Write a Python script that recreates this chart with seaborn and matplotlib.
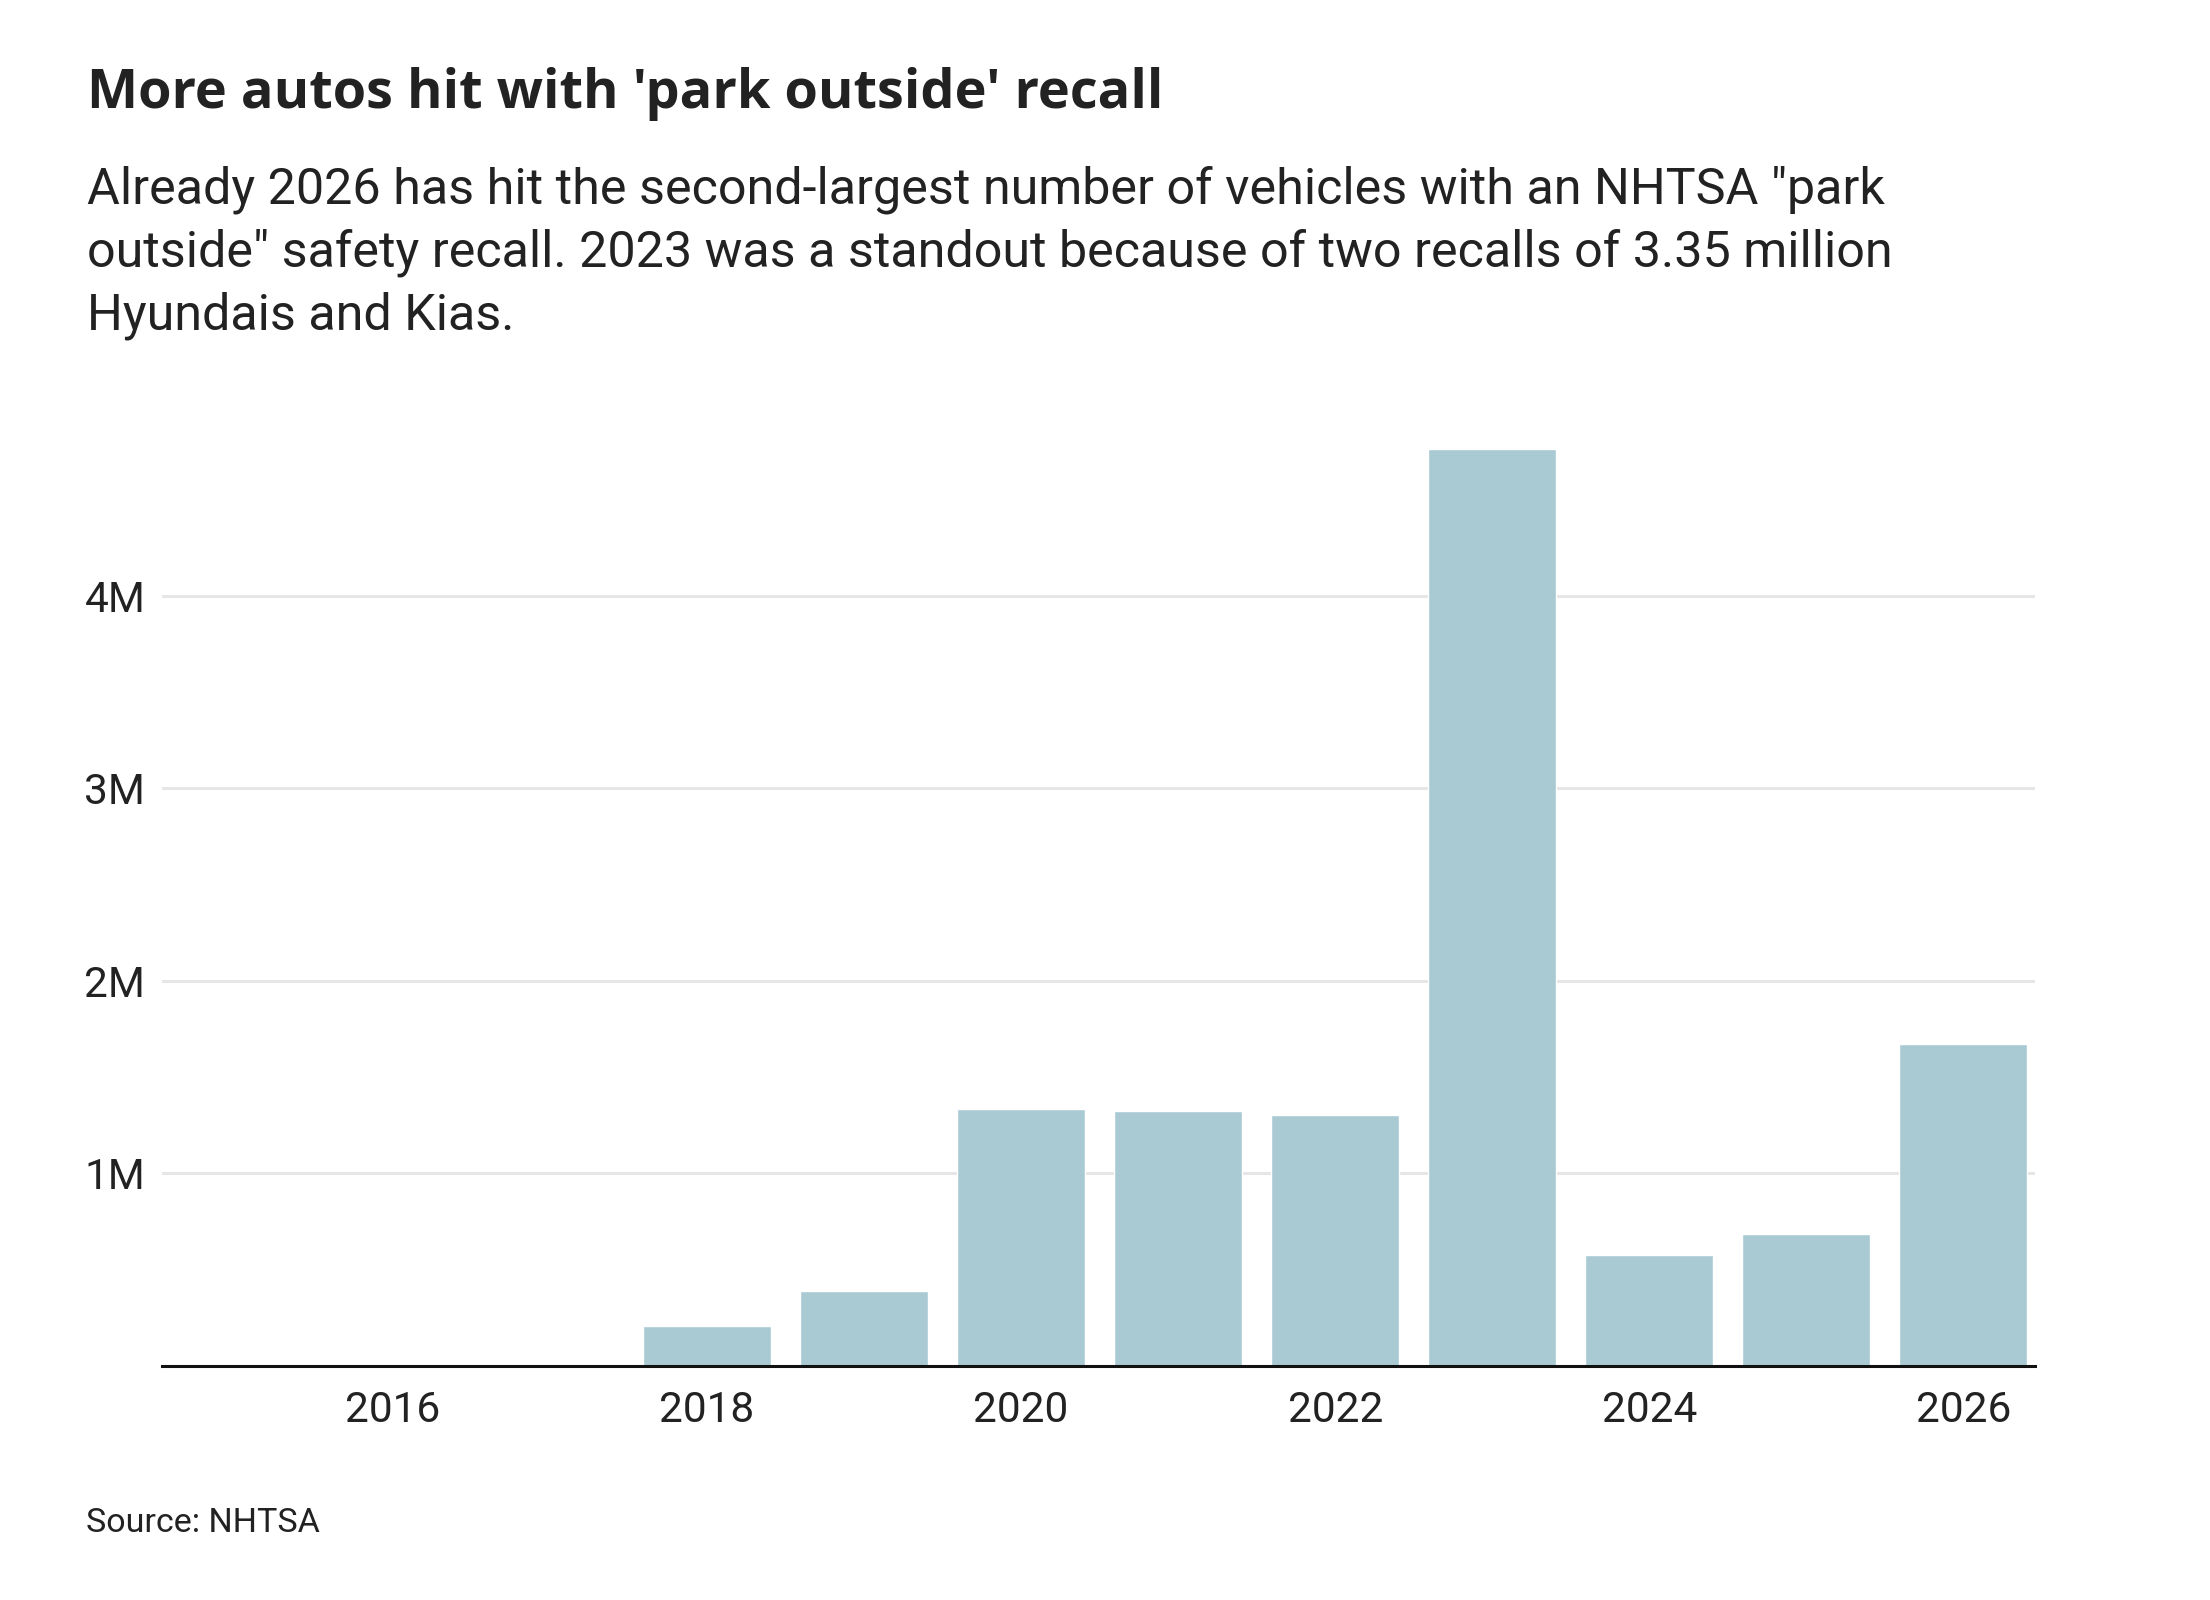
import matplotlib
matplotlib.use('Agg')
import matplotlib.pyplot as plt
import matplotlib.ticker as mticker
import seaborn as sns
import pandas as pd

sns.set_style('white')
plt.rcParams['font.family'] = ['Roboto', 'DejaVu Sans']

#Vehicles hit by "park outside" recalls per year
YEARS = ['2015', '2016', '2017', '2018', '2019', '2020', '2021', '2022', '2023', '2024', '2025', '2026']
VEHICLES = [0, 0, 0, 210000, 390000, 1335000, 1322000, 1305000, 4765000, 578000, 688000, 1675000]
TICK_YEARS = ['2016', '2018', '2020', '2022', '2024', '2026']
Y_TICKS = [1000000, 2000000, 3000000, 4000000]

TITLE = "More autos hit with 'park outside' recall"
SUBTITLE_LINES = [
    'Already 2026 has hit the second-largest number of vehicles with an NHTSA "park',
    'outside" safety recall. 2023 was a standout because of two recalls of 3.35 million',
    'Hyundais and Kias.',
]
SOURCE = 'Source: NHTSA'

BAR_COLOR = '#a9cad2'
TEXT_COLOR = '#222222'
GRID_COLOR = '#e6e6e6'

df = pd.DataFrame({'year': YEARS, 'vehicles': VEHICLES})

fig = plt.figure(figsize=(22.1, 16), dpi=100)
ax = fig.add_axes([0.0733, 0.14625, 0.8477, 0.6016])

sns.barplot(data=df, x='year', y='vehicles', order=YEARS, color=BAR_COLOR,
            saturation=1, width=0.815, ax=ax, zorder=2)

ax.set_xlim(-0.47, 11.458)
ax.set_ylim(0, 5000000)

#gridlines behind the bars
ax.set_yticks(Y_TICKS)
ax.yaxis.set_major_formatter(mticker.FuncFormatter(lambda v, p: '{:d}M'.format(int(round(v / 1e6)))))
ax.yaxis.grid(True, color=GRID_COLOR, linewidth=2.2, zorder=0)
ax.set_axisbelow(True)

ax.set_xticks([YEARS.index(y) for y in TICK_YEARS])
ax.set_xticklabels(TICK_YEARS)

for s in ['top', 'right', 'left']:
    ax.spines[s].set_visible(False)
ax.spines['bottom'].set_color('#111111')
ax.spines['bottom'].set_linewidth(2.2)
ax.spines['bottom'].set_zorder(3)

ax.tick_params(axis='both', length=0, labelsize=30.5, labelcolor=TEXT_COLOR)
ax.tick_params(axis='x', pad=17)
ax.tick_params(axis='y', pad=12)
ax.set_xlabel('')
ax.set_ylabel('')

#Title, subtitle and source
fig.text(0.0394, 1 - 107.7 / 1600, TITLE, fontsize=39, fontweight='bold',
         family=['Open Sans', 'DejaVu Sans'], color=TEXT_COLOR, ha='left', va='baseline')
for i, line in enumerate(SUBTITLE_LINES):
    fig.text(0.0394, 1 - (203 + 63.5 * i) / 1600, line, fontsize=36.2,
             color=TEXT_COLOR, ha='left', va='baseline')
fig.text(0.039, 1 - 1532 / 1600, SOURCE, fontsize=24.5, color=TEXT_COLOR,
         ha='left', va='baseline')

fig.savefig('out.png', dpi=100, facecolor='white')
